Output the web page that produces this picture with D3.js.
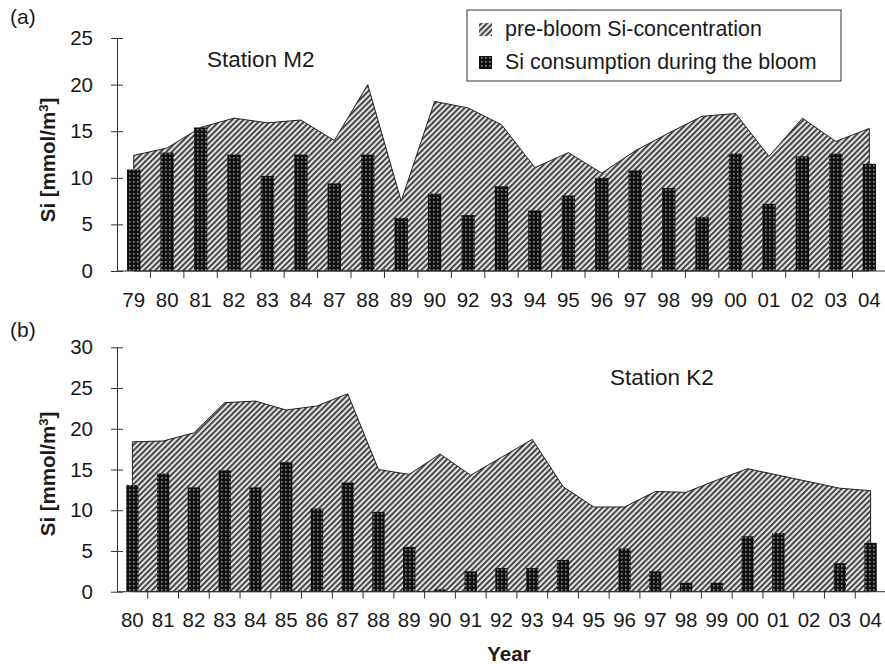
<!DOCTYPE html>
<html>
<head>
<meta charset="utf-8">
<script src="https://cdn.jsdelivr.net/npm/d3@7"></script>
<style>
  body { margin: 0; background: #fff; }
  text { font-family: Arial, "Liberation Sans", sans-serif; fill: #1a1a1a; }
</style>
</head>
<body>
<svg id="chart" width="885" height="664"></svg>
<script>
// station M2
const m2Years = ["79","80","81","82","83","84","87","88","89","90","92","93","94","95","96","97","98","99","00","01","02","03","04"];
const m2Pre = [12.4,13.2,15.4,16.4,15.9,16.2,14.0,20.0,7.5,18.2,17.5,15.7,11.1,12.7,10.5,12.9,14.8,16.6,16.9,12.3,16.4,13.9,15.3];
const m2Use = [10.9,12.7,15.4,12.5,10.2,12.5,9.4,12.5,5.7,8.3,6.0,9.1,6.5,8.1,10.0,10.8,8.9,5.8,12.6,7.2,12.3,12.6,11.5];

// station K2
const k2Years = ["80","81","82","83","84","85","86","87","88","89","90","91","92","93","94","95","96","97","98","99","00","01","02","03","04"];
const k2Pre = [18.4,18.5,19.5,23.2,23.4,22.3,22.8,24.3,15.0,14.4,16.9,14.3,16.5,18.7,12.9,10.4,10.4,12.3,12.2,13.7,15.1,14.3,13.5,12.7,12.4];
const k2Use = [13.1,14.5,12.8,14.9,12.8,15.9,10.2,13.4,9.8,5.5,0.3,2.5,2.9,2.9,3.9,0,5.3,2.5,1.1,1.1,6.8,7.2,0,3.5,6.0];

const legendLabels = ["pre-bloom Si-concentration", "Si consumption during the bloom"];

const svg = d3.select("#chart");
const defs = svg.append("defs");

const hatch = defs.append("pattern")
  .attr("id", "hatch")
  .attr("patternUnits", "userSpaceOnUse")
  .attr("width", 4).attr("height", 4)
  .attr("patternTransform", "rotate(45)");
hatch.append("rect").attr("width", 4).attr("height", 4).attr("fill", "#e2e2e2");
hatch.append("rect").attr("width", 1.8).attr("height", 4).attr("fill", "#383838");

const dots = defs.append("pattern")
  .attr("id", "dots")
  .attr("patternUnits", "userSpaceOnUse")
  .attr("width", 4).attr("height", 4);
dots.append("rect").attr("width", 4).attr("height", 4).attr("fill", "#111");
dots.append("rect").attr("x", 1).attr("y", 1).attr("width", 1.6).attr("height", 1.6).attr("fill", "#8a8a8a");

const left = 117, right = 886;

function drawPanel(cfg) {
  const g = svg.append("g");
  const x = d3.scaleBand().domain(cfg.years).range([left, right]).padding(0);
  const y = d3.scaleLinear().domain([0, cfg.yMax]).range([cfg.y0, cfg.yTop]);
  const cx = d => x(d) + x.bandwidth() / 2;

  const area = d3.area()
    .x((d, i) => cx(cfg.years[i]))
    .y0(y(0))
    .y1(d => y(d));

  g.append("path")
    .datum(cfg.pre)
    .attr("d", area)
    .attr("fill", "url(#hatch)")
    .attr("stroke", "#222")
    .attr("stroke-width", 1);

  const bw = x.bandwidth() * 0.4;
  g.selectAll(".bar")
    .data(cfg.use)
    .enter().append("rect")
    .attr("class", "bar")
    .attr("x", (d, i) => cx(cfg.years[i]) - bw / 2)
    .attr("y", d => y(d))
    .attr("width", bw)
    .attr("height", d => y(0) - y(d))
    .attr("fill", "url(#dots)");

  // y axis, ticks crossing the line
  const yAxis = g.append("g")
    .attr("transform", `translate(${left},0)`)
    .call(d3.axisLeft(y).tickValues(d3.range(0, cfg.yMax + 1, 5)).tickSize(6).tickSizeOuter(0).tickPadding(18));
  yAxis.select(".domain").attr("stroke", "#333");
  yAxis.selectAll(".tick line").attr("x1", 6).attr("stroke", "#333");
  yAxis.selectAll("text").attr("font-size", 20.5).style("fill", "#1a1a1a");

  // x axis: labels at centres, ticks at band edges
  const xAxis = g.append("g")
    .attr("transform", `translate(0,${y(0)})`)
    .call(d3.axisBottom(x).tickSize(0).tickPadding(21));
  xAxis.select(".domain").remove();
  xAxis.selectAll("text").attr("font-size", 20.5).style("fill", "#1a1a1a");

  g.append("line")
    .attr("x1", left).attr("x2", right)
    .attr("y1", y(0)).attr("y2", y(0))
    .attr("stroke", "#333");
  g.selectAll(".xtick")
    .data(cfg.years.slice(1).map(d => x(d)).concat([right]))
    .enter().append("line")
    .attr("class", "xtick")
    .attr("x1", d => d).attr("x2", d => d)
    .attr("y1", y(0) - 2).attr("y2", y(0) + 7)
    .attr("stroke", "#333");

  const yl = g.append("text")
    .attr("transform", `translate(55,${cfg.labelY}) rotate(-90)`)
    .attr("text-anchor", "middle")
    .attr("font-size", 20.5)
    .attr("font-weight", "bold");
  yl.append("tspan").text("Si [mmol/m");
  yl.append("tspan").attr("baseline-shift", "super").attr("font-size", 13).text("3");
  yl.append("tspan").text("]");

  g.append("text")
    .attr("x", 10).attr("y", cfg.tagY)
    .attr("font-size", 21)
    .text(cfg.tag);

  g.append("text")
    .attr("x", cfg.stationX).attr("y", cfg.stationY)
    .attr("font-size", 22.5)
    .text(cfg.station);
}

drawPanel({
  years: m2Years, pre: m2Pre, use: m2Use,
  yMax: 25, y0: 271, yTop: 38,
  labelY: 160, tag: "(a)", tagY: 24,
  station: "Station M2", stationX: 207, stationY: 67
});

drawPanel({
  years: k2Years, pre: k2Pre, use: k2Use,
  yMax: 30, y0: 591.7, yTop: 347.3,
  labelY: 474, tag: "(b)", tagY: 337,
  station: "Station K2", stationX: 610, stationY: 385
});

// legend
const lg = svg.append("g");
lg.append("rect")
  .attr("x", 467).attr("y", 10).attr("width", 374).attr("height", 71)
  .attr("fill", "#fff").attr("stroke", "#333");
const fills = ["url(#hatch)", "url(#dots)"];
legendLabels.forEach((t, i) => {
  lg.append("rect")
    .attr("x", 479).attr("y", 23 + i * 33).attr("width", 13).attr("height", 13)
    .attr("fill", fills[i]);
  lg.append("text")
    .attr("x", 505).attr("y", 36 + i * 33)
    .attr("font-size", 21.4)
    .text(t);
});

svg.append("text")
  .attr("x", 509).attr("y", 661)
  .attr("text-anchor", "middle")
  .attr("font-size", 20.5)
  .attr("font-weight", "bold")
  .text("Year");
</script>
</body>
</html>
